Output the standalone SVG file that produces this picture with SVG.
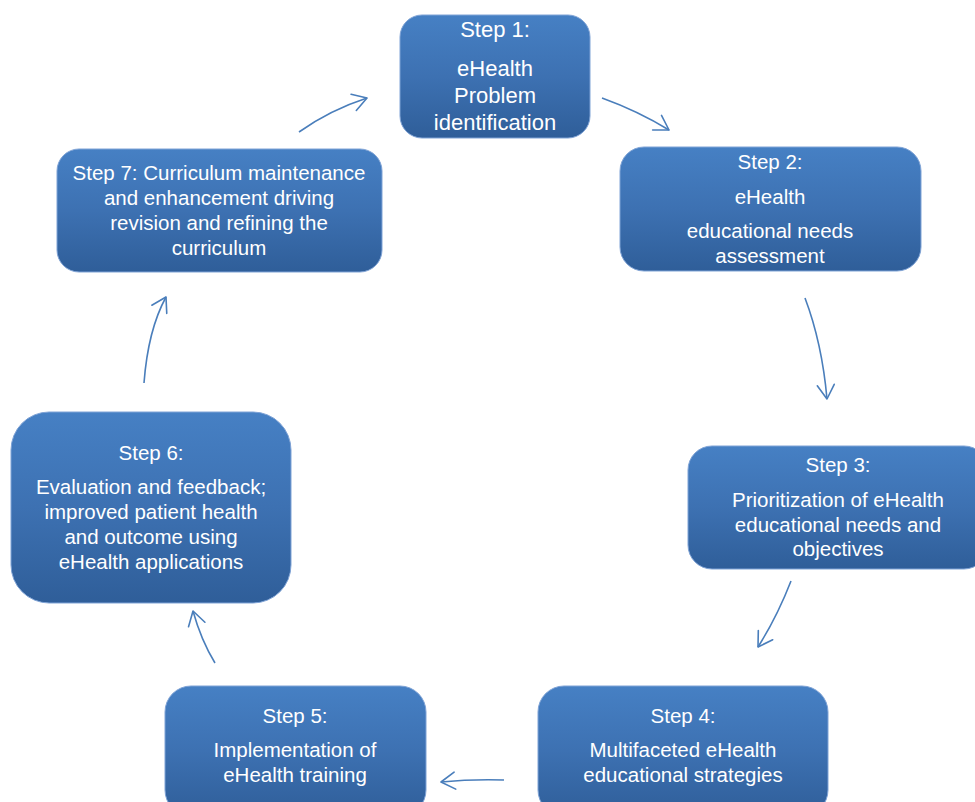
<svg xmlns="http://www.w3.org/2000/svg" width="975" height="802" viewBox="0 0 975 802">
<defs>
<linearGradient id="g" x1="0" y1="0" x2="0" y2="1">
<stop offset="0" stop-color="#4680c4"/>
<stop offset="0.5" stop-color="#3d71b2"/>
<stop offset="1" stop-color="#2f5e99"/>
</linearGradient>
<marker id="ah" markerUnits="userSpaceOnUse" markerWidth="20" markerHeight="22" viewBox="0 0 20 22" refX="16" refY="10" orient="auto" overflow="visible">
<path d="M2,1.5 L16,10 L2,18.5" fill="none" stroke="#4a7ebb" stroke-width="1.6" stroke-linecap="round" stroke-linejoin="round"/>
</marker>
<style>
.box{fill:url(#g);stroke:#7fa3d6;stroke-width:1}
.t{font-family:"Liberation Sans",Arial,sans-serif;font-size:20.5px;fill:#ffffff;text-anchor:middle}
.big{font-size:22px}
.c{fill:none;stroke:#4a7ebb;stroke-width:1.6;marker-end:url(#ah)}
</style>
</defs>
<rect width="975" height="802" fill="#ffffff"/>
<g id="connectors">
<path class="c" d="M602,98 Q638,111 669,130"/>
<path class="c" d="M805,298 Q822,343 827,399"/>
<path class="c" d="M791,581 Q777,617 758,647"/>
<path class="c" d="M504,780 Q472,779 441,782"/>
<path class="c" d="M215,663 Q201,640 193,611"/>
<path class="c" d="M144,383 Q148,330 166,297"/>
<path class="c" d="M299,132 Q330,110 367,98"/>
</g>
<g id="step1">
<rect class="box" x="400" y="15" width="190" height="123" rx="22"/>
<text class="t big" x="495" y="37">Step 1:</text>
<text class="t big" x="495" y="76">eHealth</text>
<text class="t big" x="495" y="103">Problem</text>
<text class="t big" x="495" y="130">identification</text>
</g>
<g id="step2">
<rect class="box" x="620" y="147" width="301" height="124" rx="24"/>
<text class="t" x="770" y="169">Step 2:</text>
<text class="t" x="770" y="204">eHealth</text>
<text class="t" x="770" y="238">educational needs</text>
<text class="t" x="770" y="263">assessment</text>
</g>
<g id="step3">
<rect class="box" x="688" y="446" width="300" height="123" rx="24"/>
<text class="t" x="838" y="472">Step 3:</text>
<text class="t" x="838" y="507">Prioritization of eHealth</text>
<text class="t" x="838" y="532">educational needs and</text>
<text class="t" x="838" y="556">objectives</text>
</g>
<g id="step4">
<rect class="box" x="538" y="686" width="290" height="130" rx="26"/>
<text class="t" x="683" y="723">Step 4:</text>
<text class="t" x="683" y="757">Multifaceted eHealth</text>
<text class="t" x="683" y="782">educational strategies</text>
</g>
<g id="step5">
<rect class="box" x="165" y="686" width="261" height="130" rx="26"/>
<text class="t" x="295" y="723">Step 5:</text>
<text class="t" x="295" y="757">Implementation of</text>
<text class="t" x="295" y="782">eHealth training</text>
</g>
<g id="step6">
<rect class="box" x="11" y="412" width="280" height="191" rx="38"/>
<text class="t" x="151" y="460">Step 6:</text>
<text class="t" x="151" y="494">Evaluation and feedback;</text>
<text class="t" x="151" y="519">improved patient health</text>
<text class="t" x="151" y="544">and outcome using</text>
<text class="t" x="151" y="569">eHealth applications</text>
</g>
<g id="step7">
<rect class="box" x="57" y="149" width="325" height="123" rx="22"/>
<text class="t" x="219" y="180">Step 7: Curriculum maintenance</text>
<text class="t" x="219" y="205">and enhancement driving</text>
<text class="t" x="219" y="230">revision and refining the</text>
<text class="t" x="219" y="255">curriculum</text>
</g>
</svg>
